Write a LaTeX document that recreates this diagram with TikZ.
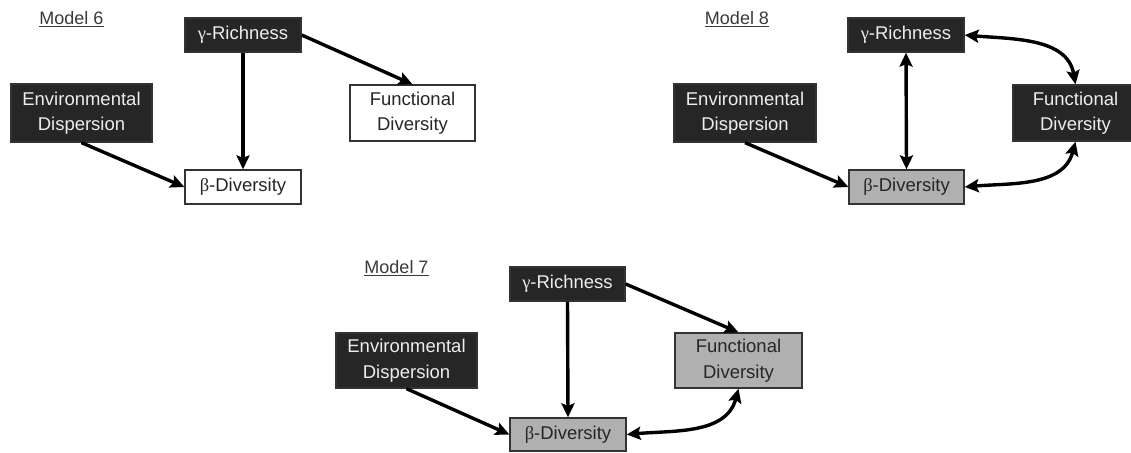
\documentclass[tikz,border=0pt]{standalone}
\usepackage{fontspec}
\setmainfont{Liberation Sans}
\newfontfamily\grk{Liberation Serif}
\usetikzlibrary{arrows.meta}
\definecolor{darkbox}{HTML}{262626}
\definecolor{lightbox}{HTML}{B0B0B0}
\definecolor{boxtext}{HTML}{EDEDED}
\definecolor{edge}{HTML}{333333}
\definecolor{labelc}{HTML}{3A3A3A}
\begin{document}
\begin{tikzpicture}[x=1pt,y=-1pt,
  box/.style={rectangle,draw=edge,line width=1.3pt,align=center,inner sep=0pt,
    font=\fontsize{18.5}{25.5}\selectfont},
  dark/.style={box,fill=darkbox,text=boxtext},
  light/.style={box,fill=lightbox,text=black!85},
  plain/.style={box,fill=white,text=black!85},
  modellabel/.style={font=\fontsize{18}{20}\selectfont,text=labelc,inner sep=0pt},
  arr/.style={line width=3.4pt,-{Stealth[length=14pt,width=13pt,inset=2.5pt]}},
  darr/.style={line width=3.4pt,{Stealth[length=14pt,width=13pt,inset=2.5pt]}-{Stealth[length=14pt,width=13pt,inset=2.5pt]}}
]
\clip (0,0) rectangle (1131,452);
\fill[white] (0,0) rectangle (1131,452);

% ---------- Model 6 ----------
\node[modellabel] (m6) at (71.5,19) {\underline{Model 6}};
\node[dark,minimum width=116pt,minimum height=34pt] (g6) at (243,35) {{\grk γ}-Richness};
\node[dark,minimum width=141pt,minimum height=58pt] (e6) at (81.5,113) {Environmental\\Dispersion};
\node[plain,minimum width=125pt,minimum height=56pt] (f6) at (412.5,113) {Functional\\Diversity};
\node[plain,minimum width=116pt,minimum height=34pt] (b6) at (243,187) {{\grk β}-Diversity};
\draw[arr] (g6.south) -- (b6.north);
\draw[arr] (e6.south) -- (b6.west);
\draw[arr] (g6.east) -- (f6.north);

% ---------- Model 8 ----------
\node[modellabel] (m8) at (737,19) {\underline{Model 8}};
\node[dark,minimum width=116pt,minimum height=34pt] (g8) at (906,35) {{\grk γ}-Richness};
\node[dark,minimum width=142pt,minimum height=58pt] (e8) at (745,113) {Environmental\\Dispersion};
\node[dark,minimum width=125pt,minimum height=56pt] (f8) at (1075.5,113) {Functional\\Diversity};
\node[light,minimum width=115pt,minimum height=34pt] (b8) at (906.5,187) {{\grk β}-Diversity};
\draw[darr] (g8.south) -- (b8.north);
\draw[arr] (e8.south) -- (b8.west);
\draw[darr] (g8.east) to[out=-5,in=100] (f8.north);
\draw[darr] (b8.east) to[out=5,in=-105] (f8.south);

% ---------- Model 7 ----------
\node[modellabel] (m7) at (396.5,268) {\underline{Model 7}};
\node[dark,minimum width=115pt,minimum height=34pt] (g7) at (567.5,284) {{\grk γ}-Richness};
\node[dark,minimum width=141pt,minimum height=55pt] (e7) at (406.5,360.5) {Environmental\\Dispersion};
\node[light,minimum width=127pt,minimum height=55pt] (f7) at (738.5,360.5) {Functional\\Diversity};
\node[light,minimum width=116pt,minimum height=33pt] (b7) at (568,434.5) {{\grk β}-Diversity};
\draw[arr] (g7.south) -- (b7.north);
\draw[arr] (e7.south) -- (b7.west);
\draw[arr] (g7.east) -- (f7.north);
\draw[darr] (b7.east) to[out=5,in=-105] (f7.south);
\end{tikzpicture}
\end{document}
